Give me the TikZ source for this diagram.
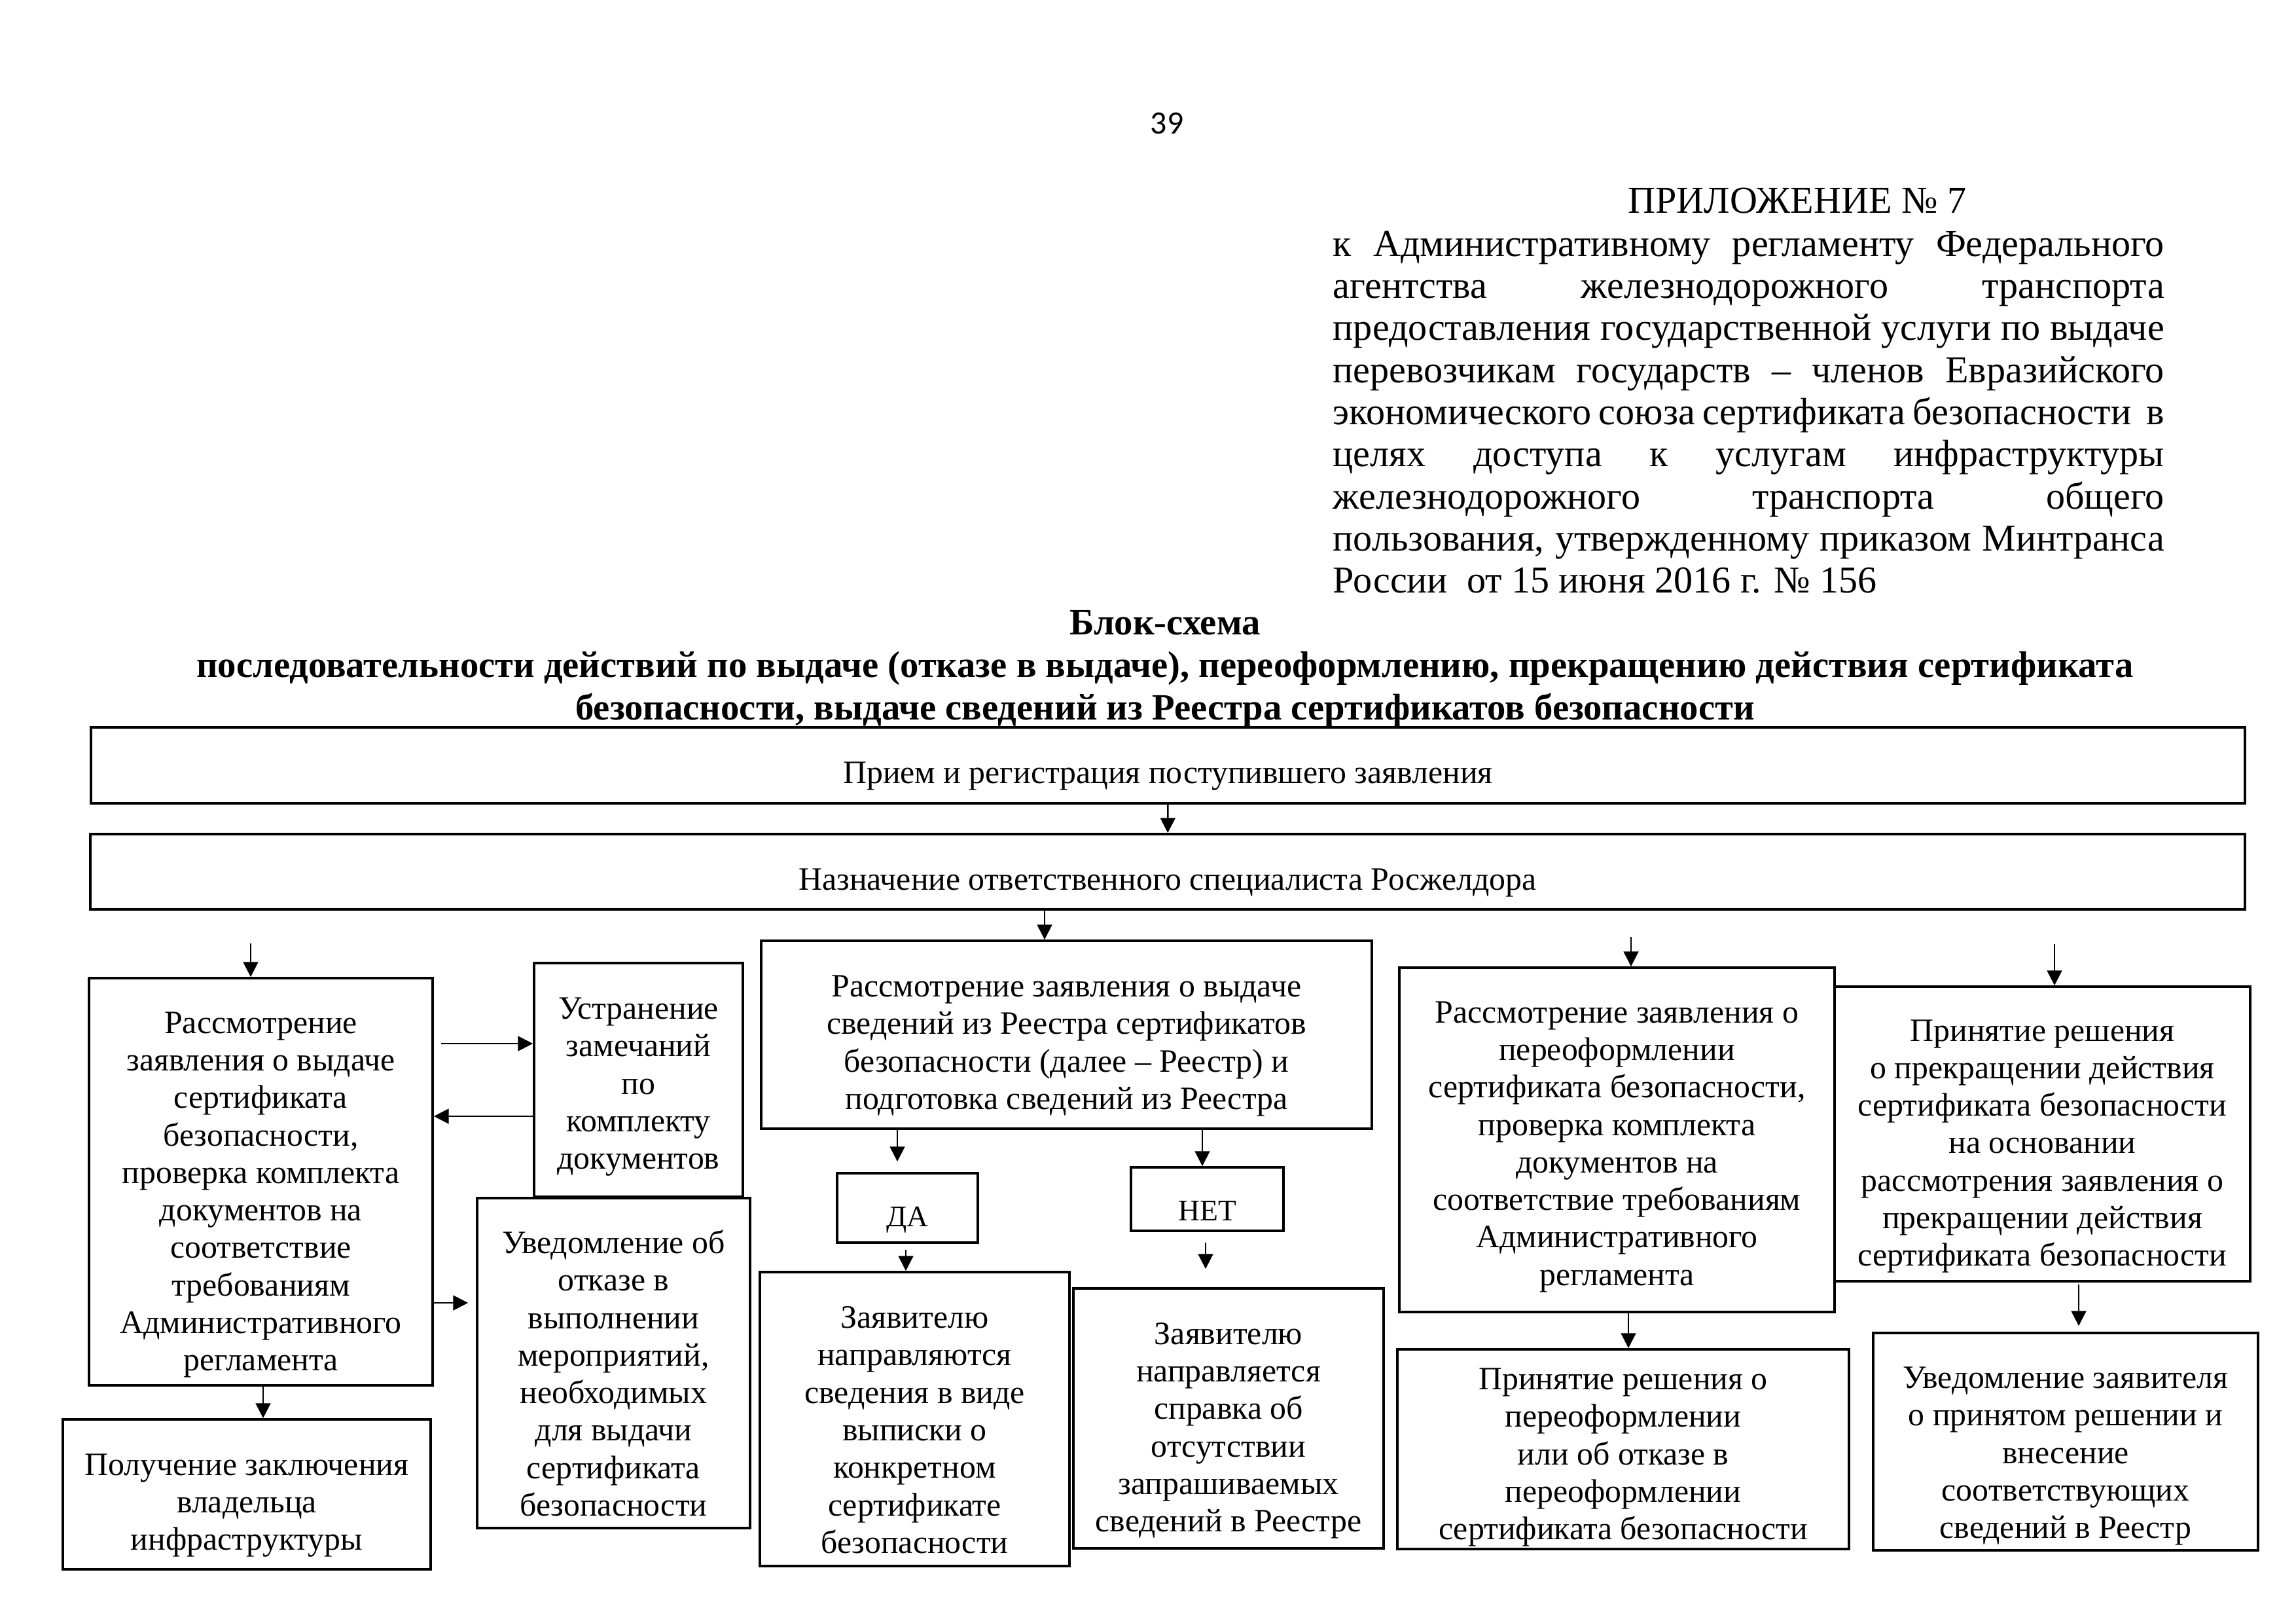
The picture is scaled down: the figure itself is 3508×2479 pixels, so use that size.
\documentclass[tikz,border=0pt]{standalone}
\usepackage{fontspec}
\setmainfont{Liberation Serif}
\newfontfamily\pagefont{Carlito}
\usetikzlibrary{arrows.meta}
\newdimen\pxu
\pxu=0.084667mm
\tolerance=10000
% strut that drops box text a little below centre
\newcommand{\topgap}[1][16pt]{\rule{0pt}{#1}}

\begin{document}
\begin{tikzpicture}[
    x=\pxu, y=-\pxu,
    box/.style={rectangle, draw, line width=0.9pt, inner sep=0pt, align=center, font=\fontsize{12}{13.8}\selectfont},
    arrow/.style={-{Triangle[length=5.5pt, width=5.5pt]}, line width=0.6pt}
]
    \useasboundingbox (0,0) rectangle (3508,2479);

    % Header
    \node[font=\pagefont\fontsize{12}{14}\selectfont] (page) at (1783,189) {39};
    \node[font=\fontsize{14}{15.4}\selectfont] (annexno) at (2746,307) {ПРИЛОЖЕНИЕ № 7};
    \node[anchor=north west, inner sep=0pt, text width=1270\pxu, align=justify, font=\fontsize{14}{15.5}\selectfont] (annex) at (2036,352) {к Административному регламенту Федерального\linebreak агентства железнодорожного транспорта\linebreak предоставления государственной услуги по выдаче\linebreak перевозчикам государств – членов Евразийского\linebreak экономического союза сертификата безопасности\ \ в\linebreak целях доступа к услугам инфраструктуры\linebreak железнодорожного транспорта общего\linebreak пользования, утвержденному приказом Минтранса\linebreak России\ \ от 15 июня 2016 г. № 156};
    \node[align=center, font=\bfseries\fontsize{13.65}{15.6}\selectfont] (title) at (1780,1022) {Блок-схема\\последовательности действий по выдаче (отказе в выдаче), переоформлению, прекращению действия сертификата\\безопасности, выдаче сведений из Реестра сертификатов безопасности};

    % Common steps
    \node[box, minimum width=3291\pxu, minimum height=116\pxu] (recv) at (1784.5,1169) {\topgap Прием и регистрация поступившего заявления};
    \node[box, minimum width=3292\pxu, minimum height=115\pxu] (assign) at (1784,1331.5) {\topgap Назначение ответственного специалиста Росжелдора};

    % Issue of certificate
    \node[box, minimum width=525\pxu, minimum height=622\pxu] (issue) at (398.5,1805) {\topgap[17.5pt]Рассмотрение\\заявления о выдаче\\сертификата\\безопасности,\\проверка комплекта\\документов на\\соответствие\\требованиям\\Административного\\регламента};
    \node[box, minimum width=319\pxu, minimum height=357\pxu] (fix) at (975.5,1649.5) {\topgap[13pt]Устранение\\замечаний\\по\\комплекту\\документов};
    \node[box, minimum width=417\pxu, minimum height=504\pxu] (refuse) at (937.5,2082) {\topgap Уведомление об\\отказе в\\выполнении\\мероприятий,\\необходимых\\для выдачи\\сертификата\\безопасности};
    \node[box, minimum width=562\pxu, minimum height=229\pxu] (owner) at (377,2282.5) {\topgap Получение заключения\\владельца\\инфраструктуры};

    % Registry extract
    \node[box, minimum width=933\pxu, minimum height=287\pxu] (registry) at (1629.5,1580.5) {\topgap Рассмотрение заявления о выдаче\\сведений из Реестра сертификатов\\безопасности (далее – Реестр) и\\подготовка сведений из Реестра};
    \node[box, minimum width=215\pxu, minimum height=106\pxu, font=\fontsize{11}{13}\selectfont] (yes) at (1386.5,1845) {\topgap ДА};
    \node[box, minimum width=233\pxu, minimum height=97\pxu, font=\fontsize{11}{13}\selectfont] (no) at (1844.5,1831.5) {\topgap НЕТ};
    \node[box, minimum width=473\pxu, minimum height=449\pxu] (extract) at (1397.5,2167.5) {\topgap Заявителю\\направляются\\сведения в виде\\выписки о\\конкретном\\сертификате\\безопасности};
    \node[box, minimum width=474\pxu, minimum height=397\pxu] (absent) at (1877,2166.5) {\topgap[17pt]Заявителю\\направляется\\справка об\\отсутствии\\запрашиваемых\\сведений в Реестре};

    % Reissue and termination
    \node[box, minimum width=665\pxu, minimum height=526\pxu] (reissue) at (2470.5,1741) {\topgap[13pt]Рассмотрение заявления о\\переоформлении\\сертификата безопасности,\\проверка комплекта\\документов на\\соответствие требованиям\\Административного\\регламента};
    \node[box, minimum width=635\pxu, minimum height=450\pxu] (stop) at (3120.5,1732) {\topgap[17pt]Принятие решения\\о прекращении действия\\сертификата безопасности\\на основании\\рассмотрения заявления о\\прекращении действия\\сертификата безопасности};
    \node[box, minimum width=690\pxu, minimum height=305\pxu] (decide) at (2480,2213.5) {\topgap[14pt]Принятие решения о\\переоформлении\\или об отказе в\\переоформлении\\сертификата безопасности};
    \node[box, minimum width=588\pxu, minimum height=332\pxu] (notify) at (3156,2202) {\topgap[18.5pt]Уведомление заявителя\\о принятом решении и\\внесение\\соответствующих\\сведений в Реестр};

    % Arrows
    \draw[arrow] (recv) -- (assign);
    \draw[arrow, shorten <=50\pxu] (assign.south -| 383,0) -- (issue.north -| 383,0);
    \draw[arrow] (assign.south -| 1596,0) -- (registry.north -| 1596,0);
    \draw[arrow, shorten <=40\pxu] (assign.south -| 2492,0) -- (reissue.north -| 2492,0);
    \draw[arrow, shorten <=51\pxu] (assign.south -| 3139,0) -- (stop.north -| 3139,0);
    \draw[arrow, shorten <=11\pxu] (issue.east |- 0,1594) -- (fix.west |- 0,1594);
    \draw[arrow] (fix.west |- 0,1705) -- (issue.east |- 0,1705);
    \draw[arrow, shorten >=12\pxu] (issue.east |- 0,1990) -- (refuse.west |- 0,1990);
    \draw[arrow] (issue.south -| 402,0) -- (owner.north -| 402,0);
    \draw[arrow, shorten >=16\pxu] (registry.south -| 1371,0) -- (yes.north -| 1371,0);
    \draw[arrow] (registry.south -| 1837,0) -- (no.north -| 1837,0);
    \draw[arrow, shorten <=9\pxu] (yes.south -| 1384,0) -- (extract.north -| 1384,0);
    \draw[arrow, shorten <=16\pxu, shorten >=28\pxu] (no.south -| 1842,0) -- (absent.north -| 1842,0);
    \draw[arrow] (reissue.south -| 2488,0) -- (decide.north -| 2488,0);
    \draw[arrow, shorten <=3\pxu, shorten >=9\pxu] (stop.south -| 3176,0) -- (notify.north -| 3176,0);
\end{tikzpicture}
\end{document}
